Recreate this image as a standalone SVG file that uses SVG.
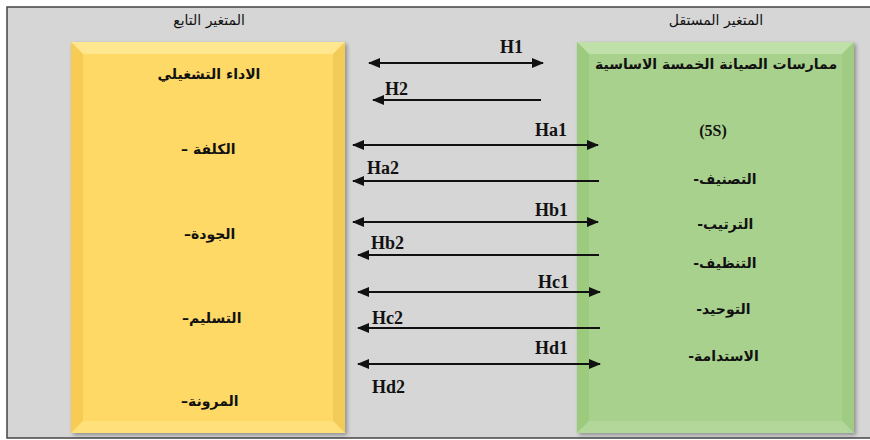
<svg xmlns="http://www.w3.org/2000/svg" width="870" height="440" viewBox="0 0 870 440">
<style>
.hdr{font-family:"DejaVu Sans",sans-serif;font-size:14px;fill:#111;text-anchor:middle}
.ar{font-family:"DejaVu Sans",sans-serif;font-size:14px;font-weight:bold;fill:#111;text-anchor:middle}
.as{font-family:"DejaVu Sans",sans-serif;font-size:14px;font-weight:bold;fill:#111;text-anchor:start}
.ds{font-family:"DejaVu Sans",sans-serif;font-size:14px;font-weight:bold;fill:#111;text-anchor:end}
.lbl{font-family:"Liberation Serif",serif;font-size:18px;font-weight:bold;fill:#111}
.cn line{stroke:#111;stroke-width:2}
.dbl{marker-start:url(#ah);marker-end:url(#ah)}
.one{marker-end:url(#ah)}
</style>
<defs>
<marker id="ah" markerUnits="userSpaceOnUse" markerWidth="12" markerHeight="10" refX="11" refY="5" orient="auto-start-reverse" viewBox="0 0 12 10">
<path d="M0,0 L12,5 L0,10 z" fill="#111"/>
</marker>
<filter id="sh" x="-5%" y="-5%" width="115%" height="115%">
<feGaussianBlur in="SourceAlpha" stdDeviation="2"/>
<feOffset dx="2" dy="2"/>
<feComponentTransfer><feFuncA type="linear" slope="0.35"/></feComponentTransfer>
<feMerge><feMergeNode/><feMergeNode in="SourceGraphic"/></feMerge>
</filter>
</defs>
<rect x="7" y="7" width="875" height="431" fill="#d6d6d6" stroke="#444" stroke-width="1.5"/>
<text class="hdr" x="209" y="25">المتغير التابع</text>
<text class="hdr" x="716" y="25">المتغير المستقل</text>

<g id="dependent">
<g filter="url(#sh)">
<rect x="71" y="42" width="274" height="391" fill="#ffd966"/>
<polygon points="71,42 345,42 333,54 83,54" fill="#ffe78f"/>
<polygon points="71,42 83,54 83,421 71,433" fill="#f6cc55"/>
<polygon points="345,42 345,433 333,421 333,54" fill="#f3cb58"/>
<polygon points="71,433 345,433 333,421 83,421" fill="#ffe07a"/>
</g>
<text class="ar" x="209" y="79">الاداء التشغيلي</text>
<text class="ds" x="188" y="154">–</text><text class="as" x="193" y="154">الكلفة</text>
<text class="ds" x="191" y="239">–</text><text class="as" x="191" y="239">الجودة</text>
<text class="ds" x="189" y="323">–</text><text class="as" x="189" y="323">التسليم</text>
<text class="ds" x="188" y="406">–</text><text class="as" x="188" y="406">المرونة</text>
</g>

<g id="independent">
<g filter="url(#sh)">
<rect x="577" y="42" width="277" height="391" fill="#a9d18e"/>
<polygon points="577,42 854,42 842,54 589,54" fill="#bfe0a8"/>
<polygon points="577,42 589,54 589,421 577,433" fill="#9ccb7e"/>
<polygon points="854,42 854,433 842,421 842,54" fill="#9fcb82"/>
<polygon points="577,433 854,433 842,421 589,421" fill="#b3d79b"/>
</g>
<text class="ar" x="716" y="69">ممارسات الصيانة الخمسة الاساسية</text>
<text class="lbl" x="713" y="136" text-anchor="middle" style="font-size:16px">(5S)</text>
<text class="ds" x="699" y="184">-</text><text class="as" x="699" y="184">التصنيف</text>
<text class="ds" x="703" y="229">-</text><text class="as" x="703" y="229">الترتيب</text>
<text class="ds" x="699" y="268">-</text><text class="as" x="699" y="268">التنظيف</text>
<text class="ds" x="702" y="314">-</text><text class="as" x="702" y="314">التوحيد</text>
<text class="ds" x="694" y="361">-</text><text class="as" x="694" y="361">الاستدامة</text>
</g>

<g id="connectors" class="cn">
<line class="dbl" x1="369" y1="63" x2="543" y2="63"/>
<line class="one" x1="541" y1="100" x2="373" y2="100"/>
<line class="dbl" x1="353" y1="145" x2="598" y2="145"/>
<line class="one" x1="599" y1="181" x2="353" y2="181"/>
<line class="dbl" x1="353" y1="222" x2="598" y2="222"/>
<line class="one" x1="599" y1="255" x2="358" y2="255"/>
<line class="dbl" x1="358" y1="292" x2="600" y2="292"/>
<line class="one" x1="600" y1="328" x2="358" y2="328"/>
<line class="dbl" x1="358" y1="364" x2="600" y2="364"/>
</g>

<g id="labels">
<text class="lbl" x="500" y="53">H1</text>
<text class="lbl" x="385" y="95">H2</text>
<text class="lbl" x="535" y="136">Ha1</text>
<text class="lbl" x="367" y="174">Ha2</text>
<text class="lbl" x="535" y="216">Hb1</text>
<text class="lbl" x="371" y="249">Hb2</text>
<text class="lbl" x="538" y="288">Hc1</text>
<text class="lbl" x="372" y="324">Hc2</text>
<text class="lbl" x="535" y="354">Hd1</text>
<text class="lbl" x="372" y="393">Hd2</text>
</g>
</svg>
